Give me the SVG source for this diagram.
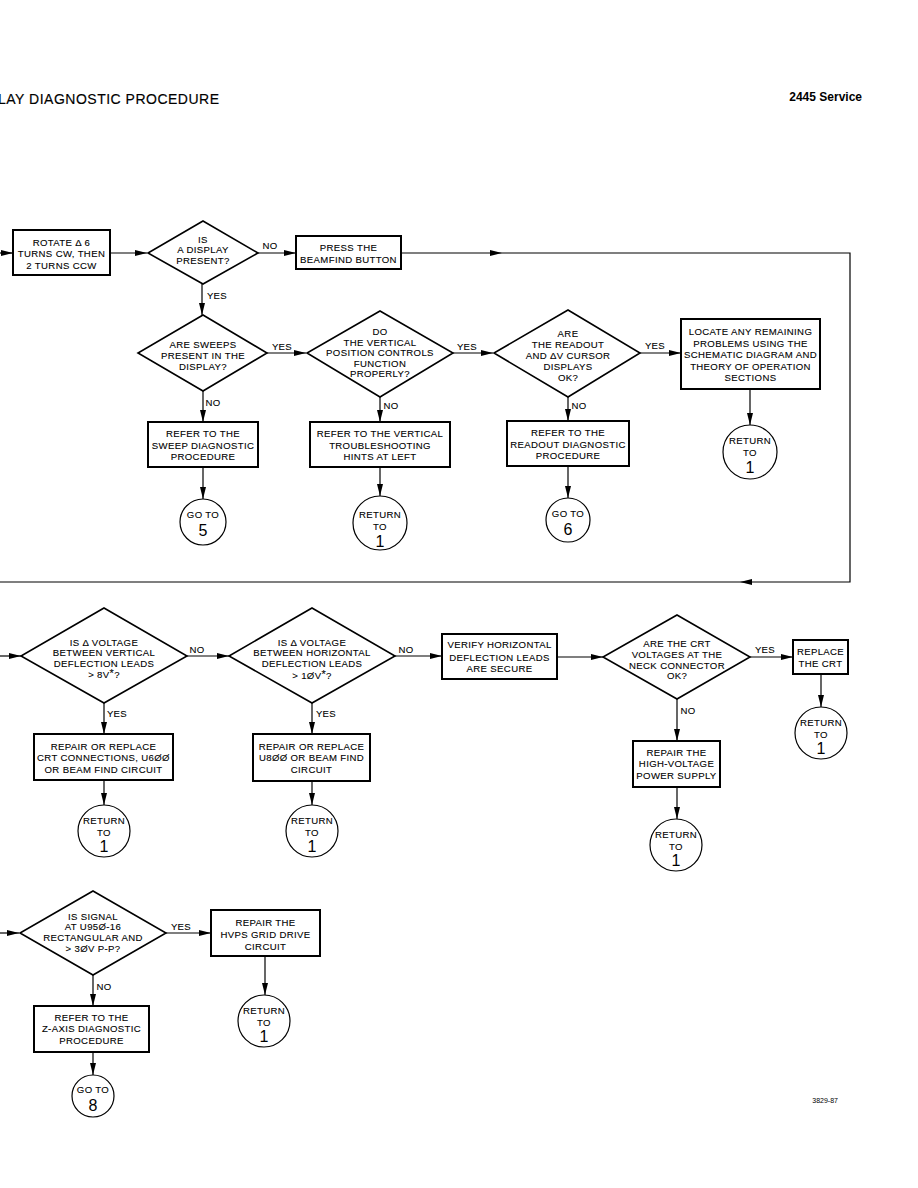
<svg xmlns="http://www.w3.org/2000/svg" width="918" height="1188" viewBox="0 0 918 1188">
<style>
text{font-family:"Liberation Sans",Arial,sans-serif;fill:#000}
.t{font-size:9.6px;text-anchor:middle;letter-spacing:0.35px;stroke:#000;stroke-width:0.1px}
.l{font-size:9.6px;text-anchor:middle;letter-spacing:0.35px;stroke:#000;stroke-width:0.1px}
.n{font-size:16px;text-anchor:middle}
.box{fill:#fff;stroke:#000;stroke-width:2}
.dia{fill:#fff;stroke:#000;stroke-width:1.6}
.cir{fill:#fff;stroke:#000;stroke-width:1.2}
.c{fill:none;stroke:#000;stroke-width:1.2}
.a{marker-end:url(#ah)}
</style>
<defs>
<marker id="ah" viewBox="0 0 12 6" refX="12" refY="3" markerWidth="12" markerHeight="6" markerUnits="userSpaceOnUse" orient="auto"><path d="M0,0 L12,3 L0,6 z" fill="#000"/></marker>
</defs>
<rect width="918" height="1188" fill="#fff"/>
<g id="header">
<text x="-2" y="104" style="font-size:14px;letter-spacing:0.5px;stroke:#000;stroke-width:0.15px">LAY DIAGNOSTIC PROCEDURE</text>
<text x="862" y="101" style="font-size:12px;font-weight:bold;text-anchor:end">2445 Service</text>
<text x="838" y="1103" style="font-size:7px;text-anchor:end">3829-87</text>
</g>
<g id="connectors">
<path class="c a" d="M0,253 H13"/>
<path class="c a" d="M110,253 H147"/>
<path class="c a" d="M258,253 H296"/>
<path class="c a" d="M401,253 H502"/>
<path class="c a" d="M502,253 H850 V582 H740"/>
<path class="c" d="M740,582 H0"/>
<path class="c a" d="M202,284 V315"/>
<path class="c a" d="M267,353 H306"/>
<path class="c a" d="M453,353 H493"/>
<path class="c a" d="M640,353 H681"/>
<path class="c a" d="M750,389 V425"/>
<path class="c a" d="M203,391 V422"/>
<path class="c a" d="M203,467 V499"/>
<path class="c a" d="M380,397 V422"/>
<path class="c a" d="M380,467 V496"/>
<path class="c a" d="M568,397 V421"/>
<path class="c a" d="M568,466 V498"/>
<path class="c a" d="M0,656 H21"/>
<path class="c a" d="M187,656 H229"/>
<path class="c a" d="M395,656 H442"/>
<path class="c a" d="M558,657 H603"/>
<path class="c a" d="M750,657 H793"/>
<path class="c a" d="M821,674 V707"/>
<path class="c a" d="M677,699 V741"/>
<path class="c a" d="M677,787 V819"/>
<path class="c a" d="M104,703 V734"/>
<path class="c a" d="M104,780 V805"/>
<path class="c a" d="M312,703 V734"/>
<path class="c a" d="M312,781 V805"/>
<path class="c a" d="M0,933 H19"/>
<path class="c a" d="M166,933 H211"/>
<path class="c a" d="M265,956 V995"/>
<path class="c a" d="M93,975 V1006"/>
<path class="c a" d="M93,1052 V1075"/>
<text class="l" x="270" y="249">NO</text>
<text class="l" x="217" y="299">YES</text>
<text class="l" x="282" y="350">YES</text>
<text class="l" x="467" y="350">YES</text>
<text class="l" x="655" y="349">YES</text>
<text class="l" x="213" y="406">NO</text>
<text class="l" x="391" y="409">NO</text>
<text class="l" x="579" y="409">NO</text>
<text class="l" x="197" y="653">NO</text>
<text class="l" x="406" y="653">NO</text>
<text class="l" x="765" y="653">YES</text>
<text class="l" x="688" y="714">NO</text>
<text class="l" x="117" y="717">YES</text>
<text class="l" x="326" y="717">YES</text>
<text class="l" x="181" y="930">YES</text>
<text class="l" x="104" y="990">NO</text>
</g>
<g id="n-rotate">
<rect class="box" x="13" y="230" width="97" height="45"/>
<text class="t" x="61.5" y="245.5">ROTATE  Δ  6</text>
<text class="t" x="61.5" y="257">TURNS CW, THEN</text>
<text class="t" x="61.5" y="268.5">2 TURNS CCW</text>
</g>
<g id="n-display">
<polygon class="dia" points="203,221 258,253 203,284 148,253"/>
<text class="t" x="203" y="242.5">IS</text>
<text class="t" x="203" y="252.5">A DISPLAY</text>
<text class="t" x="203" y="264">PRESENT?</text>
</g>
<g id="n-beamfind">
<rect class="box" x="296" y="236" width="105" height="33"/>
<text class="t" x="348.5" y="250.5">PRESS THE</text>
<text class="t" x="348.5" y="262.5">BEAMFIND BUTTON</text>
</g>
<g id="n-sweeps">
<polygon class="dia" points="203,315 267,353 203,391 138,353"/>
<text class="t" x="203" y="347.5">ARE SWEEPS</text>
<text class="t" x="203" y="359">PRESENT IN THE</text>
<text class="t" x="203" y="369.5">DISPLAY?</text>
</g>
<g id="n-vertical">
<polygon class="dia" points="380,311 453,353 380,397 307,353"/>
<text class="t" x="380" y="335">DO</text>
<text class="t" x="380" y="345.5">THE VERTICAL</text>
<text class="t" x="380" y="356">POSITION CONTROLS</text>
<text class="t" x="380" y="366.5">FUNCTION</text>
<text class="t" x="380" y="377">PROPERLY?</text>
</g>
<g id="n-readout">
<polygon class="dia" points="568,310 640,353 568,397 494,353"/>
<text class="t" x="568" y="336.5">ARE</text>
<text class="t" x="568" y="347.5">THE READOUT</text>
<text class="t" x="568" y="358.5">AND  ΔV CURSOR</text>
<text class="t" x="568" y="369.5">DISPLAYS</text>
<text class="t" x="568" y="380.5">OK?</text>
</g>
<g id="n-locate">
<rect class="box" x="681" y="319" width="139" height="70"/>
<text class="t" x="750.5" y="335">LOCATE ANY REMAINING</text>
<text class="t" x="750.5" y="346.5">PROBLEMS USING THE</text>
<text class="t" x="750.5" y="358">SCHEMATIC DIAGRAM AND</text>
<text class="t" x="750.5" y="369.5">THEORY OF OPERATION</text>
<text class="t" x="750.5" y="381">SECTIONS</text>
</g>
<g id="n-ret1">
<circle class="cir" cx="750" cy="452" r="27"/>
<text class="t" x="750" y="444">RETURN</text>
<text class="t" x="750" y="456">TO</text>
<text class="n" x="750" y="473">1</text>
</g>
<g id="n-sweepdiag">
<rect class="box" x="148" y="422" width="110" height="45"/>
<text class="t" x="203" y="437">REFER TO THE</text>
<text class="t" x="203" y="448.5">SWEEP DIAGNOSTIC</text>
<text class="t" x="203" y="460">PROCEDURE</text>
</g>
<g id="n-goto5">
<circle class="cir" cx="203" cy="522" r="23"/>
<text class="t" x="203" y="518">GO TO</text>
<text class="n" x="203" y="536">5</text>
</g>
<g id="n-verthints">
<rect class="box" x="310" y="422" width="140" height="45"/>
<text class="t" x="380" y="437">REFER TO THE VERTICAL</text>
<text class="t" x="380" y="448.5">TROUBLESHOOTING</text>
<text class="t" x="380" y="460">HINTS AT LEFT</text>
</g>
<g id="n-ret2">
<circle class="cir" cx="380" cy="523" r="27"/>
<text class="t" x="380" y="518">RETURN</text>
<text class="t" x="380" y="530">TO</text>
<text class="n" x="380" y="547">1</text>
</g>
<g id="n-readdiag">
<rect class="box" x="507" y="421" width="122" height="45"/>
<text class="t" x="568" y="436">REFER TO THE</text>
<text class="t" x="568" y="447.5">READOUT DIAGNOSTIC</text>
<text class="t" x="568" y="459">PROCEDURE</text>
</g>
<g id="n-goto6">
<circle class="cir" cx="568" cy="520" r="22"/>
<text class="t" x="568" y="517">GO TO</text>
<text class="n" x="568" y="535">6</text>
</g>
<g id="n-vdefl">
<polygon class="dia" points="104,608 187,656 104,703 21,656"/>
<text class="t" x="104" y="645.5">IS  Δ VOLTAGE</text>
<text class="t" x="104" y="656">BETWEEN VERTICAL</text>
<text class="t" x="104" y="666.5">DEFLECTION LEADS</text>
<text class="t" x="104" y="677.5">&gt; 8V<tspan dy="-1" font-size="11">*</tspan><tspan dy="1">?</tspan></text>
</g>
<g id="n-hdefl">
<polygon class="dia" points="312,608 395,656 312,703 229,656"/>
<text class="t" x="312" y="645.5">IS  Δ VOLTAGE</text>
<text class="t" x="312" y="656">BETWEEN HORIZONTAL</text>
<text class="t" x="312" y="666.5">DEFLECTION LEADS</text>
<text class="t" x="312" y="678.5">&gt; 1ØV<tspan dy="-1" font-size="11">*</tspan><tspan dy="1">?</tspan></text>
</g>
<g id="n-verify">
<rect class="box" x="442" y="634" width="115" height="45"/>
<text class="t" x="499.5" y="648">VERIFY HORIZONTAL</text>
<text class="t" x="499.5" y="660.5">DEFLECTION LEADS</text>
<text class="t" x="499.5" y="672">ARE SECURE</text>
</g>
<g id="n-crtv">
<polygon class="dia" points="677,615 750,657 677,699 603,657"/>
<text class="t" x="677" y="646.5">ARE THE CRT</text>
<text class="t" x="677" y="657.5">VOLTAGES AT THE</text>
<text class="t" x="677" y="668.5">NECK CONNECTOR</text>
<text class="t" x="677" y="679">OK?</text>
</g>
<g id="n-replcrt">
<rect class="box" x="793" y="640" width="55" height="34"/>
<text class="t" x="820.5" y="654.5">REPLACE</text>
<text class="t" x="820.5" y="666.5">THE CRT</text>
</g>
<g id="n-ret3">
<circle class="cir" cx="821" cy="733" r="26"/>
<text class="t" x="821" y="726">RETURN</text>
<text class="t" x="821" y="738">TO</text>
<text class="n" x="821" y="754">1</text>
</g>
<g id="n-hv">
<rect class="box" x="633" y="741" width="87" height="46"/>
<text class="t" x="676.5" y="755.5">REPAIR THE</text>
<text class="t" x="676.5" y="767">HIGH-VOLTAGE</text>
<text class="t" x="676.5" y="778.5">POWER SUPPLY</text>
</g>
<g id="n-ret4">
<circle class="cir" cx="676" cy="845" r="26"/>
<text class="t" x="676" y="838">RETURN</text>
<text class="t" x="676" y="850">TO</text>
<text class="n" x="676" y="866">1</text>
</g>
<g id="n-crtconn">
<rect class="box" x="34" y="734" width="139" height="46"/>
<text class="t" x="103.5" y="749.5">REPAIR OR REPLACE</text>
<text class="t" x="103.5" y="761">CRT CONNECTIONS, U6ØØ</text>
<text class="t" x="103.5" y="772.5">OR BEAM FIND CIRCUIT</text>
</g>
<g id="n-ret5">
<circle class="cir" cx="104" cy="831" r="26"/>
<text class="t" x="104" y="824">RETURN</text>
<text class="t" x="104" y="836">TO</text>
<text class="n" x="104" y="852">1</text>
</g>
<g id="n-u800">
<rect class="box" x="253" y="734" width="117" height="47"/>
<text class="t" x="311.5" y="749.5">REPAIR OR REPLACE</text>
<text class="t" x="311.5" y="761">U8ØØ OR BEAM FIND</text>
<text class="t" x="311.5" y="772.5">CIRCUIT</text>
</g>
<g id="n-ret6">
<circle class="cir" cx="312" cy="831" r="26"/>
<text class="t" x="312" y="824">RETURN</text>
<text class="t" x="312" y="836">TO</text>
<text class="n" x="312" y="852">1</text>
</g>
<g id="n-signal">
<polygon class="dia" points="93,891 166,933 93,975 20,933"/>
<text class="t" x="93" y="919.5">IS SIGNAL</text>
<text class="t" x="93" y="930">AT U95Ø-16</text>
<text class="t" x="93" y="940.5">RECTANGULAR AND</text>
<text class="t" x="93" y="951.5">&gt; 3ØV P-P?</text>
</g>
<g id="n-hvps">
<rect class="box" x="211" y="910" width="109" height="46"/>
<text class="t" x="265.5" y="925.5">REPAIR THE</text>
<text class="t" x="265.5" y="937.5">HVPS GRID DRIVE</text>
<text class="t" x="265.5" y="949.5">CIRCUIT</text>
</g>
<g id="n-ret7">
<circle class="cir" cx="264" cy="1021" r="26"/>
<text class="t" x="264" y="1014">RETURN</text>
<text class="t" x="264" y="1026">TO</text>
<text class="n" x="264" y="1042">1</text>
</g>
<g id="n-zaxis">
<rect class="box" x="34" y="1006" width="115" height="46"/>
<text class="t" x="91.5" y="1020.5">REFER TO THE</text>
<text class="t" x="91.5" y="1032">Z-AXIS DIAGNOSTIC</text>
<text class="t" x="91.5" y="1043.5">PROCEDURE</text>
</g>
<g id="n-goto8">
<circle class="cir" cx="93" cy="1096" r="21"/>
<text class="t" x="93" y="1093">GO TO</text>
<text class="n" x="93" y="1111">8</text>
</g>
</svg>
